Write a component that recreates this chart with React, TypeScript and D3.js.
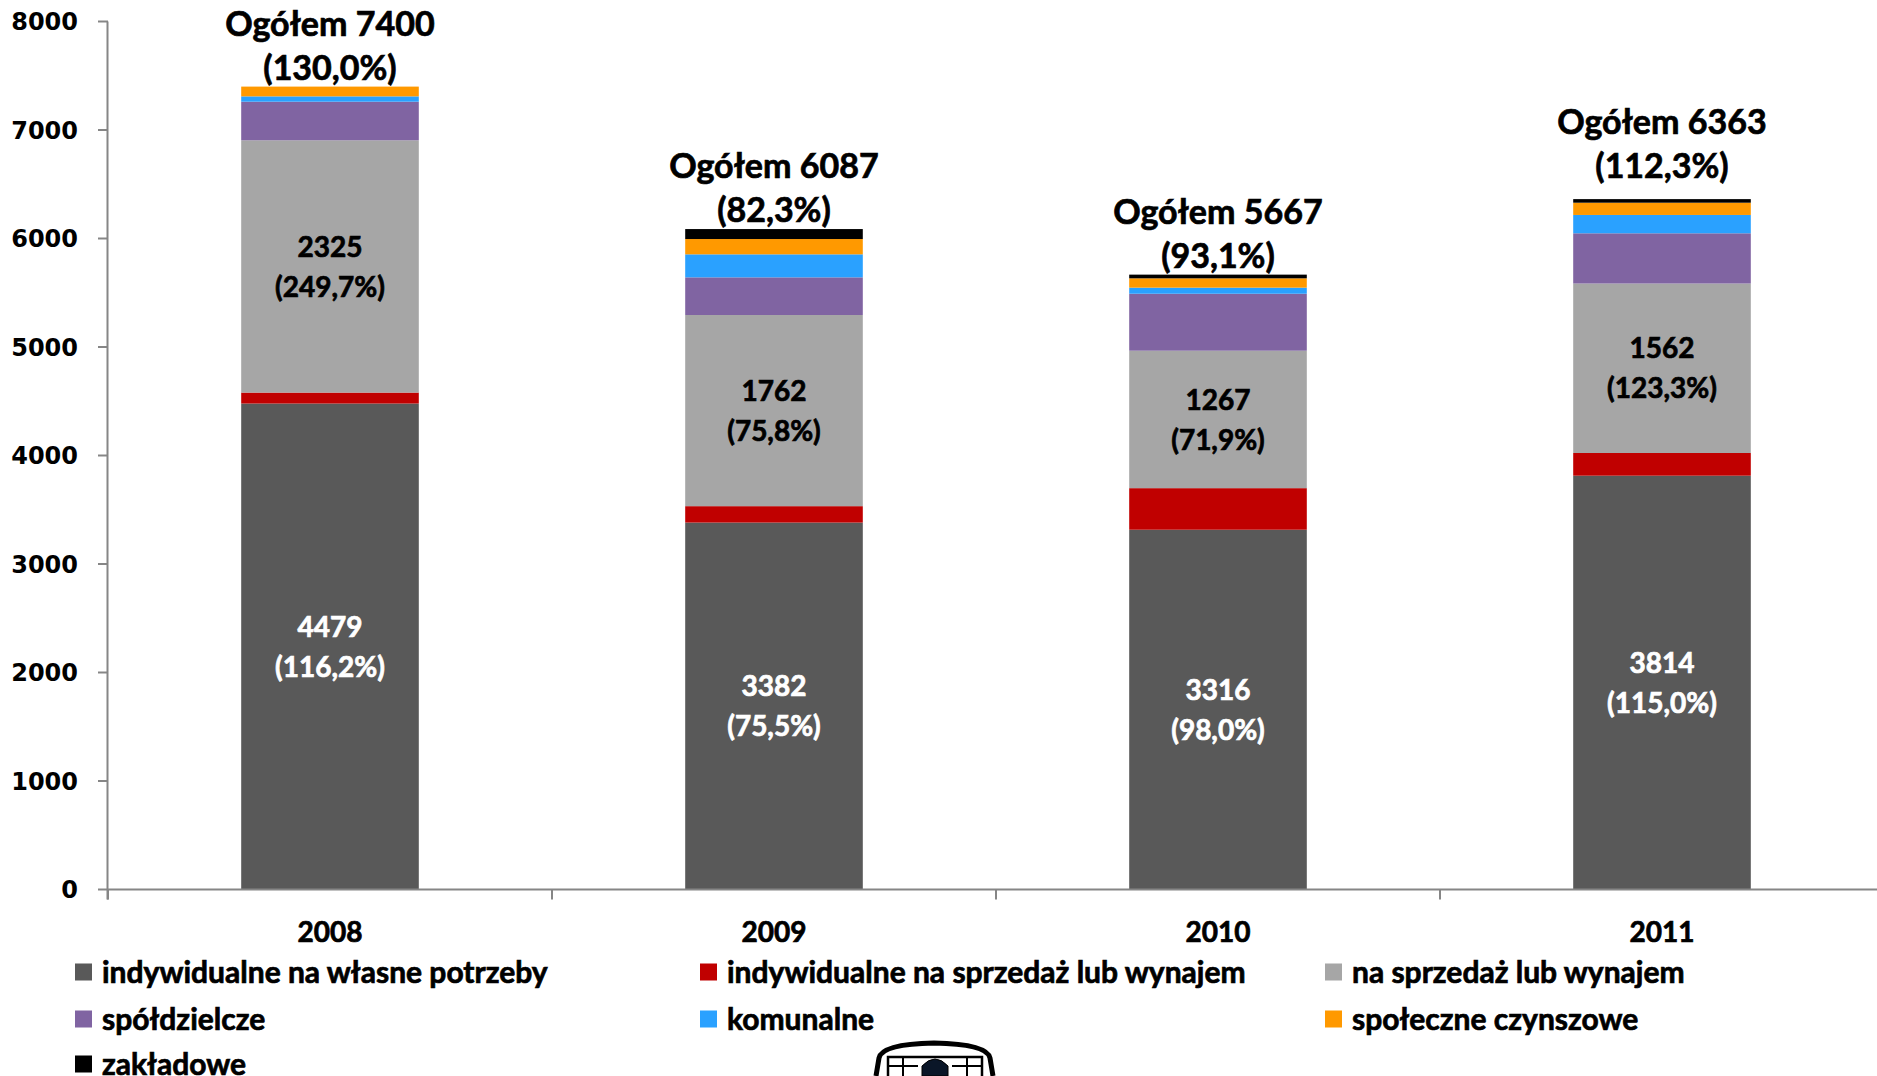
import React from 'react';
import * as d3 from 'd3';

const years = ['2008', '2009', '2010', '2011'];
const seriesNames = [
  'indywidualne na własne potrzeby',
  'indywidualne na sprzedaż lub wynajem',
  'na sprzedaż lub wynajem',
  'spółdzielcze',
  'komunalne',
  'społeczne czynszowe',
  'zakładowe',
];
const seriesColors = ['#595959', '#C00000', '#A6A6A6', '#8064A2', '#2AA1FF', '#FF9900', '#000000'];

const ownUse = [4479, 3382, 3316, 3814];
const individualForSale = [101, 151, 383, 209];
const forSale = [2325, 1762, 1267, 1562];
const cooperative = [356, 347, 525, 463];
const municipal = [49, 212, 56, 169];
const socialRent = [90, 141, 86, 113];
const company = [0, 92, 34, 33];

const totals = [7400, 6087, 5667, 6363];
const totalPct = ['130,0%', '82,3%', '93,1%', '112,3%'];
const ownPct = ['116,2%', '75,5%', '98,0%', '115,0%'];
const forSalePct = ['249,7%', '75,8%', '71,9%', '123,3%'];
const yTicks = [0, 1000, 2000, 3000, 4000, 5000, 6000, 7000, 8000];

const W = 1877;
const H = 1076;
const font = 'Lato, "Open Sans", sans-serif';
// extra lift of the total label above its bar (the last one sits higher in the original)
const totalLift = [0, 0, 0, 14];

export default function App() {
  const series = [ownUse, individualForSale, forSale, cooperative, municipal, socialRent, company];
  const rows = years.map((y, i) => {
    const r: any = { year: y };
    seriesNames.forEach((n, k) => (r[n] = series[k][i]));
    return r;
  });
  const stacked = d3.stack().keys(seriesNames)(rows);

  const x = d3.scaleBand().domain(years).range([108, 1884]).paddingInner(0.6).paddingOuter(0.3);
  const y = d3.scaleLinear().domain([0, 8000]).range([889.5, 21.5]);
  const step = x.step();
  const bw = x.bandwidth();

  const legendCols = [75, 700, 1325];
  const legendRows = [972, 1019, 1064];

  const heavy = (c: string) => ({ fill: c, stroke: c, strokeWidth: 0.7 });

  return (
    <svg width={W} height={H} style={{ position: 'absolute', left: 0, top: 0, background: '#fff' }}>
      {/* bars */}
      {stacked.map((s, k) => (
        <g key={k} fill={seriesColors[k]}>
          {s.map((d, i) => (
            <rect
              key={i}
              x={x(years[i])}
              width={bw}
              y={y(d[1])}
              height={Math.max(0, y(d[0]) - y(d[1]))}
            />
          ))}
        </g>
      ))}

      {/* y axis */}
      <line x1={107.5} x2={107.5} y1={y(8000)} y2={y(0) + 10} stroke="#868686" strokeWidth={2} />
      {yTicks.map(t => (
        <g key={t}>
          <line x1={98} x2={108} y1={y(t)} y2={y(t)} stroke="#868686" strokeWidth={2} />
          <text
            x={78}
            y={y(t)}
            dy="0.36em"
            textAnchor="end"
            fontFamily='"DejaVu Sans", sans-serif'
            fontWeight="bold"
            fontSize={24}
          >
            {t}
          </text>
        </g>
      ))}

      {/* x axis */}
      <line x1={107} x2={W} y1={y(0)} y2={y(0)} stroke="#868686" strokeWidth={2} />
      {years.map(yr => {
        const bx = (x(yr) as number) + bw / 2 - step / 2;
        return <line key={yr} x1={bx} x2={bx} y1={y(0)} y2={y(0) + 10} stroke="#868686" strokeWidth={2} />;
      })}
      {years.map(yr => (
        <text
          key={yr}
          x={(x(yr) as number) + bw / 2}
          y={942}
          textAnchor="middle"
          fontFamily={font}
          fontWeight="bold"
          fontSize={28}
          {...heavy('#000')}
        >
          {yr}
        </text>
      ))}

      {/* labels inside bars */}
      {years.map((yr, i) => {
        const cx = (x(yr) as number) + bw / 2;
        const ownMid = y(stacked[0][i][0] + ownUse[i] / 2);
        const saleMid = y((stacked[2][i][0] + stacked[2][i][1]) / 2);
        const top = y(totals[i]) - totalLift[i];
        return (
          <g key={yr} fontFamily={font} fontWeight="bold" textAnchor="middle">
            <text x={cx} y={ownMid - 20} dy="0.36em" fontSize={28} {...heavy('#fff')}>{ownUse[i]}</text>
            <text x={cx} y={ownMid + 20} dy="0.36em" fontSize={28} {...heavy('#fff')}>({ownPct[i]})</text>
            <text x={cx} y={saleMid - 20} dy="0.36em" fontSize={28} {...heavy('#000')}>{forSale[i]}</text>
            <text x={cx} y={saleMid + 20} dy="0.36em" fontSize={28} {...heavy('#000')}>({forSalePct[i]})</text>
            <text x={cx} y={top - 51} fontSize={34} {...heavy('#000')}>Ogółem {totals[i]}</text>
            <text x={cx} y={top - 7} fontSize={34} {...heavy('#000')}>({totalPct[i]})</text>
          </g>
        );
      })}

      {/* legend */}
      {seriesNames.map((n, k) => {
        const lx = legendCols[k % 3];
        const ly = legendRows[Math.floor(k / 3)];
        return (
          <g key={n}>
            <rect x={lx} y={ly - 8.5} width={17} height={17} fill={seriesColors[k]} />
            <text
              x={lx + 27}
              y={ly}
              dy="0.36em"
              fontFamily={font}
              fontWeight="bold"
              fontSize={30}
              {...heavy('#000')}
            >
              {n}
            </text>
          </g>
        );
      })}

      {/* logo (cropped at bottom) */}
      <g stroke="#000" fill="none">
        <path d="M876,1076 L879,1058 Q882,1044 934,1043 Q987,1044 990,1058 L993,1076" strokeWidth={5} />
        <rect x={888} y={1057} width={94} height={25} strokeWidth={2.5} />
        <line x1={888} x2={918} y1={1066} y2={1066} strokeWidth={2} />
        <line x1={952} x2={982} y1={1066} y2={1066} strokeWidth={2} />
        <line x1={903} x2={903} y1={1057} y2={1076} strokeWidth={2} />
        <line x1={967} x2={967} y1={1057} y2={1076} strokeWidth={2} />
        <path d="M922,1076 L922,1066 Q935,1052 948,1066 L948,1076 Z" fill="#0a1628" strokeWidth={1} />
      </g>
    </svg>
  );
}
